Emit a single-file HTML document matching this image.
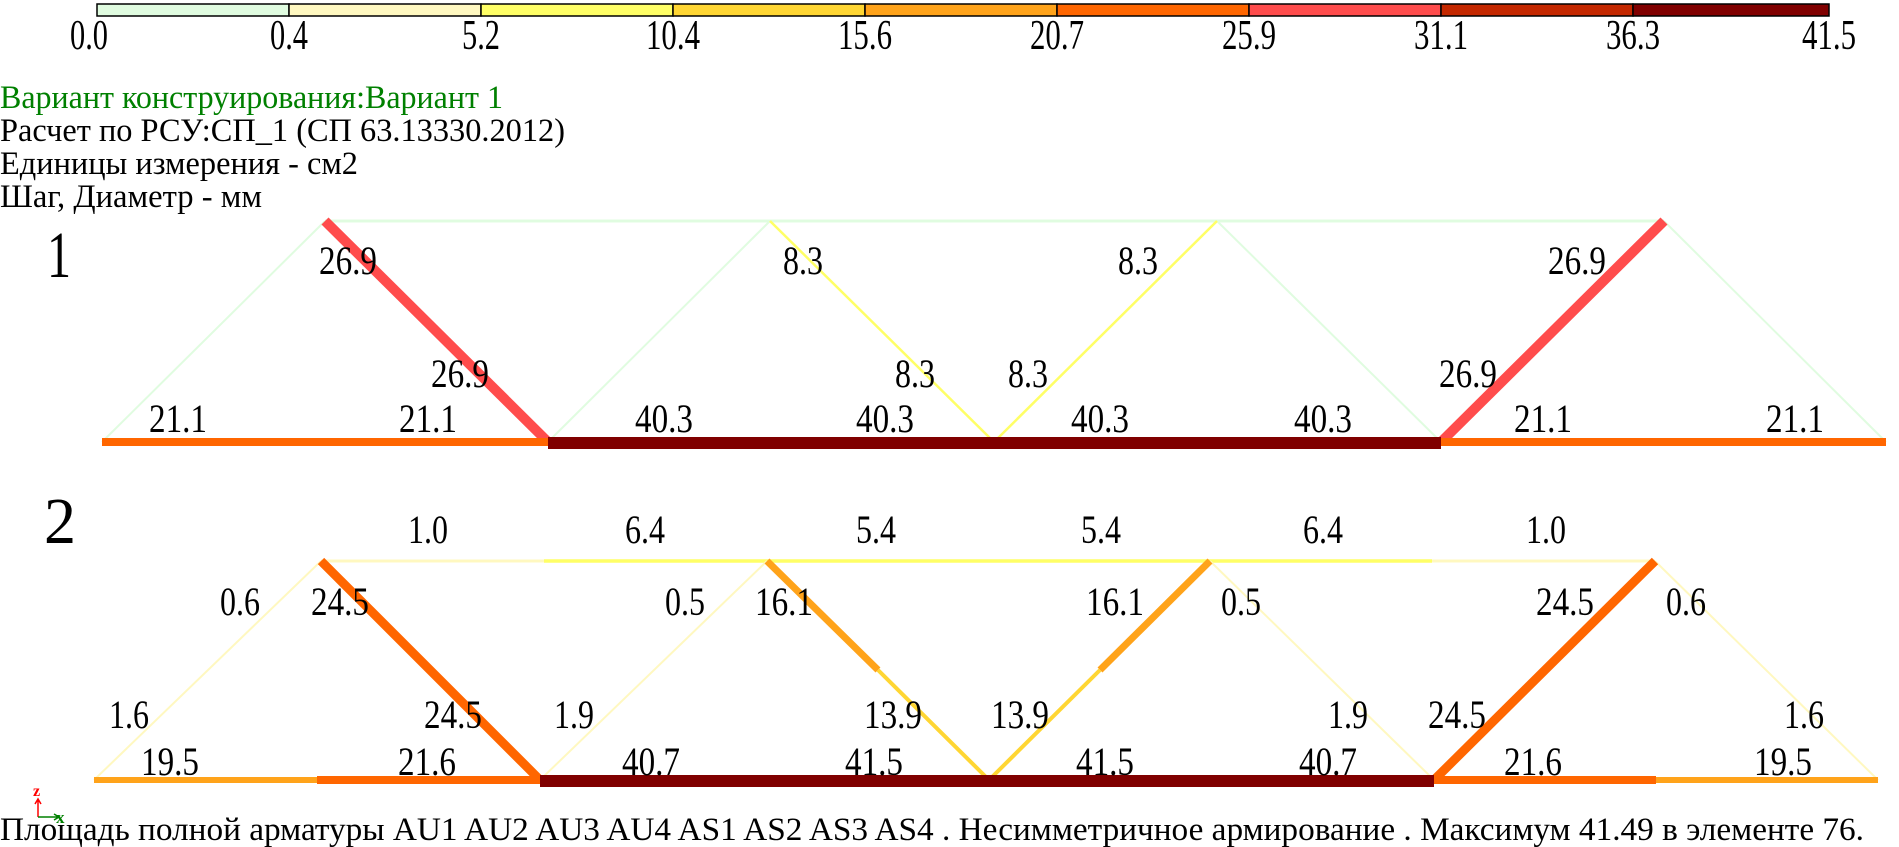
<!DOCTYPE html>
<html><head><meta charset="utf-8"><style>
html,body{margin:0;padding:0;background:#fff;width:1899px;height:847px;overflow:hidden}
text{font-family:"Liberation Serif","Times New Roman",serif}
.a{text-anchor:middle}
</style></head><body>
<svg width="1899" height="847" viewBox="0 0 1899 847" xmlns="http://www.w3.org/2000/svg" font-family="'Liberation Serif', 'Times New Roman', serif">
<g stroke="#000" stroke-width="1.5">
<rect x="97" y="4" width="192" height="12" fill="#e0fce0"/>
<rect x="289" y="4" width="192" height="12" fill="#fff8c0"/>
<rect x="481" y="4" width="192" height="12" fill="#ffff66"/>
<rect x="673" y="4" width="192" height="12" fill="#ffd633"/>
<rect x="865" y="4" width="192" height="12" fill="#ffa31a"/>
<rect x="1057" y="4" width="192" height="12" fill="#ff6600"/>
<rect x="1249" y="4" width="192" height="12" fill="#ff4c4c"/>
<rect x="1441" y="4" width="192" height="12" fill="#c42800"/>
<rect x="1633" y="4" width="196" height="12" fill="#800000"/>
</g>
<g font-size="42" text-anchor="middle" fill="#000" lengthAdjust="spacingAndGlyphs">
<text x="89" y="49" textLength="38" lengthAdjust="spacingAndGlyphs">0.0</text>
<text x="289" y="49" textLength="38" lengthAdjust="spacingAndGlyphs">0.4</text>
<text x="481" y="49" textLength="38" lengthAdjust="spacingAndGlyphs">5.2</text>
<text x="673" y="49" textLength="54" lengthAdjust="spacingAndGlyphs">10.4</text>
<text x="865" y="49" textLength="54" lengthAdjust="spacingAndGlyphs">15.6</text>
<text x="1057" y="49" textLength="54" lengthAdjust="spacingAndGlyphs">20.7</text>
<text x="1249" y="49" textLength="54" lengthAdjust="spacingAndGlyphs">25.9</text>
<text x="1441" y="49" textLength="54" lengthAdjust="spacingAndGlyphs">31.1</text>
<text x="1633" y="49" textLength="54" lengthAdjust="spacingAndGlyphs">36.3</text>
<text x="1829" y="49" textLength="54" lengthAdjust="spacingAndGlyphs">41.5</text>
</g>
<g font-size="33" fill="#000">
<text x="0" y="108" fill="#008000" textLength="503" lengthAdjust="spacingAndGlyphs">Вариант конструирования:Вариант 1</text>
<text x="0" y="141" textLength="565" lengthAdjust="spacingAndGlyphs">Расчет по РСУ:СП_1 (СП 63.13330.2012)</text>
<text x="0" y="174" textLength="358" lengthAdjust="spacingAndGlyphs">Единицы измерения - см2</text>
<text x="0" y="207" textLength="262" lengthAdjust="spacingAndGlyphs">Шаг, Диаметр - мм</text>
<text x="0" y="840" textLength="1864" lengthAdjust="spacingAndGlyphs">Площадь полной арматуры AU1 AU2 AU3 AU4 AS1 AS2 AS3 AS4 . Несимметричное армирование . Максимум 41.49 в элементе 76.</text>
</g>
<text x="47" y="277" font-size="66" textLength="24" lengthAdjust="spacingAndGlyphs">1</text>
<text x="44" y="543" font-size="66" textLength="32" lengthAdjust="spacingAndGlyphs">2</text>
<!-- Truss 1 -->
<g stroke-linecap="butt">
<line x1="325" y1="221" x2="1664" y2="221" stroke="#e0fce0" stroke-width="3"/>
<line x1="102" y1="442" x2="325" y2="221" stroke="#e0fce0" stroke-width="2"/>
<line x1="548" y1="442" x2="770" y2="221" stroke="#e0fce0" stroke-width="2"/>
<line x1="1217" y1="221" x2="1441" y2="442" stroke="#e0fce0" stroke-width="2"/>
<line x1="1664" y1="221" x2="1886" y2="442" stroke="#e0fce0" stroke-width="2"/>
<line x1="770" y1="221" x2="994" y2="442" stroke="#ffff66" stroke-width="2.5"/>
<line x1="994" y1="442" x2="1217" y2="221" stroke="#ffff66" stroke-width="2.5"/>
<line x1="325" y1="221" x2="548" y2="442" stroke="#ff4c4c" stroke-width="10"/>
<line x1="1441" y1="442" x2="1664" y2="221" stroke="#ff4c4c" stroke-width="10"/>
<line x1="102" y1="442" x2="548" y2="442" stroke="#ff6600" stroke-width="8"/>
<line x1="1441" y1="442" x2="1886" y2="442" stroke="#ff6600" stroke-width="8"/>
<line x1="548" y1="443" x2="1441" y2="443" stroke="#800000" stroke-width="12"/>
</g>
<g font-size="40" text-anchor="middle" fill="#000">
<text x="348" y="274" textLength="58" lengthAdjust="spacingAndGlyphs">26.9</text>
<text x="460" y="387" textLength="58" lengthAdjust="spacingAndGlyphs">26.9</text>
<text x="803" y="274" textLength="40" lengthAdjust="spacingAndGlyphs">8.3</text>
<text x="915" y="387" textLength="40" lengthAdjust="spacingAndGlyphs">8.3</text>
<text x="1028" y="387" textLength="40" lengthAdjust="spacingAndGlyphs">8.3</text>
<text x="1138" y="274" textLength="40" lengthAdjust="spacingAndGlyphs">8.3</text>
<text x="1577" y="274" textLength="58" lengthAdjust="spacingAndGlyphs">26.9</text>
<text x="1468" y="387" textLength="58" lengthAdjust="spacingAndGlyphs">26.9</text>
<text x="178" y="432" textLength="58" lengthAdjust="spacingAndGlyphs">21.1</text>
<text x="428" y="432" textLength="58" lengthAdjust="spacingAndGlyphs">21.1</text>
<text x="664" y="432" textLength="58" lengthAdjust="spacingAndGlyphs">40.3</text>
<text x="885" y="432" textLength="58" lengthAdjust="spacingAndGlyphs">40.3</text>
<text x="1100" y="432" textLength="58" lengthAdjust="spacingAndGlyphs">40.3</text>
<text x="1323" y="432" textLength="58" lengthAdjust="spacingAndGlyphs">40.3</text>
<text x="1543" y="432" textLength="58" lengthAdjust="spacingAndGlyphs">21.1</text>
<text x="1795" y="432" textLength="58" lengthAdjust="spacingAndGlyphs">21.1</text>
</g>
<!-- Truss 2 -->
<g stroke-linecap="butt">
<line x1="321" y1="561" x2="544" y2="561" stroke="#fff8c0" stroke-width="3"/>
<line x1="544" y1="561" x2="1432" y2="561" stroke="#ffff66" stroke-width="3.5"/>
<line x1="1432" y1="561" x2="1655" y2="561" stroke="#fff8c0" stroke-width="3"/>
<line x1="94" y1="780" x2="321" y2="561" stroke="#fff8c0" stroke-width="2"/>
<line x1="540" y1="780" x2="767" y2="561" stroke="#fff8c0" stroke-width="2"/>
<line x1="1210" y1="561" x2="1434" y2="780" stroke="#fff8c0" stroke-width="2"/>
<line x1="1655" y1="561" x2="1878" y2="780" stroke="#fff8c0" stroke-width="2"/>
<line x1="767" y1="561" x2="878" y2="670" stroke="#ffa31a" stroke-width="7"/>
<line x1="878" y1="670" x2="989" y2="780" stroke="#ffd633" stroke-width="4"/>
<line x1="1210" y1="561" x2="1100" y2="670" stroke="#ffa31a" stroke-width="7"/>
<line x1="1100" y1="670" x2="989" y2="780" stroke="#ffd633" stroke-width="4"/>
<line x1="321" y1="561" x2="540" y2="780" stroke="#ff6600" stroke-width="9"/>
<line x1="1434" y1="780" x2="1655" y2="561" stroke="#ff6600" stroke-width="9"/>
<line x1="94" y1="780" x2="317" y2="780" stroke="#ffa31a" stroke-width="6"/>
<line x1="317" y1="780" x2="540" y2="780" stroke="#ff6600" stroke-width="8"/>
<line x1="1434" y1="780" x2="1656" y2="780" stroke="#ff6600" stroke-width="8"/>
<line x1="1656" y1="780" x2="1878" y2="780" stroke="#ffa31a" stroke-width="6"/>
<line x1="540" y1="781" x2="1434" y2="781" stroke="#800000" stroke-width="12"/>
</g>
<g font-size="40" text-anchor="middle" fill="#000">
<text x="428" y="543" textLength="40" lengthAdjust="spacingAndGlyphs">1.0</text>
<text x="645" y="543" textLength="40" lengthAdjust="spacingAndGlyphs">6.4</text>
<text x="876" y="543" textLength="40" lengthAdjust="spacingAndGlyphs">5.4</text>
<text x="1101" y="543" textLength="40" lengthAdjust="spacingAndGlyphs">5.4</text>
<text x="1323" y="543" textLength="40" lengthAdjust="spacingAndGlyphs">6.4</text>
<text x="1546" y="543" textLength="40" lengthAdjust="spacingAndGlyphs">1.0</text>
<text x="240" y="615" textLength="40" lengthAdjust="spacingAndGlyphs">0.6</text>
<text x="340" y="615" textLength="58" lengthAdjust="spacingAndGlyphs">24.5</text>
<text x="685" y="615" textLength="40" lengthAdjust="spacingAndGlyphs">0.5</text>
<text x="784" y="615" textLength="58" lengthAdjust="spacingAndGlyphs">16.1</text>
<text x="1115" y="615" textLength="58" lengthAdjust="spacingAndGlyphs">16.1</text>
<text x="1241" y="615" textLength="40" lengthAdjust="spacingAndGlyphs">0.5</text>
<text x="1565" y="615" textLength="58" lengthAdjust="spacingAndGlyphs">24.5</text>
<text x="1686" y="615" textLength="40" lengthAdjust="spacingAndGlyphs">0.6</text>
<text x="129" y="728" textLength="40" lengthAdjust="spacingAndGlyphs">1.6</text>
<text x="453" y="728" textLength="58" lengthAdjust="spacingAndGlyphs">24.5</text>
<text x="574" y="728" textLength="40" lengthAdjust="spacingAndGlyphs">1.9</text>
<text x="893" y="728" textLength="58" lengthAdjust="spacingAndGlyphs">13.9</text>
<text x="1020" y="728" textLength="58" lengthAdjust="spacingAndGlyphs">13.9</text>
<text x="1348" y="728" textLength="40" lengthAdjust="spacingAndGlyphs">1.9</text>
<text x="1457" y="728" textLength="58" lengthAdjust="spacingAndGlyphs">24.5</text>
<text x="1804" y="728" textLength="40" lengthAdjust="spacingAndGlyphs">1.6</text>
<text x="170" y="775" textLength="58" lengthAdjust="spacingAndGlyphs">19.5</text>
<text x="427" y="775" textLength="58" lengthAdjust="spacingAndGlyphs">21.6</text>
<text x="651" y="775" textLength="58" lengthAdjust="spacingAndGlyphs">40.7</text>
<text x="874" y="775" textLength="58" lengthAdjust="spacingAndGlyphs">41.5</text>
<text x="1105" y="775" textLength="58" lengthAdjust="spacingAndGlyphs">41.5</text>
<text x="1328" y="775" textLength="58" lengthAdjust="spacingAndGlyphs">40.7</text>
<text x="1533" y="775" textLength="58" lengthAdjust="spacingAndGlyphs">21.6</text>
<text x="1783" y="775" textLength="58" lengthAdjust="spacingAndGlyphs">19.5</text>
</g>
<!-- axes icon -->
<g fill="none" stroke-width="1.5">
<path d="M38 817 V800 M35 804 L38 799 L41 804" stroke="#ff0000"/>
<path d="M38 817 H58 M54 814 L59 817 L54 820" stroke="#008000"/>
</g>
<text x="33" y="796" font-size="16" font-weight="bold" fill="#ff0000" font-family="'Liberation Sans', sans-serif">z</text>
<text x="56" y="823" font-size="17" font-weight="bold" fill="#008000" font-family="'Liberation Sans', sans-serif">x</text>
</svg>
</body></html>
